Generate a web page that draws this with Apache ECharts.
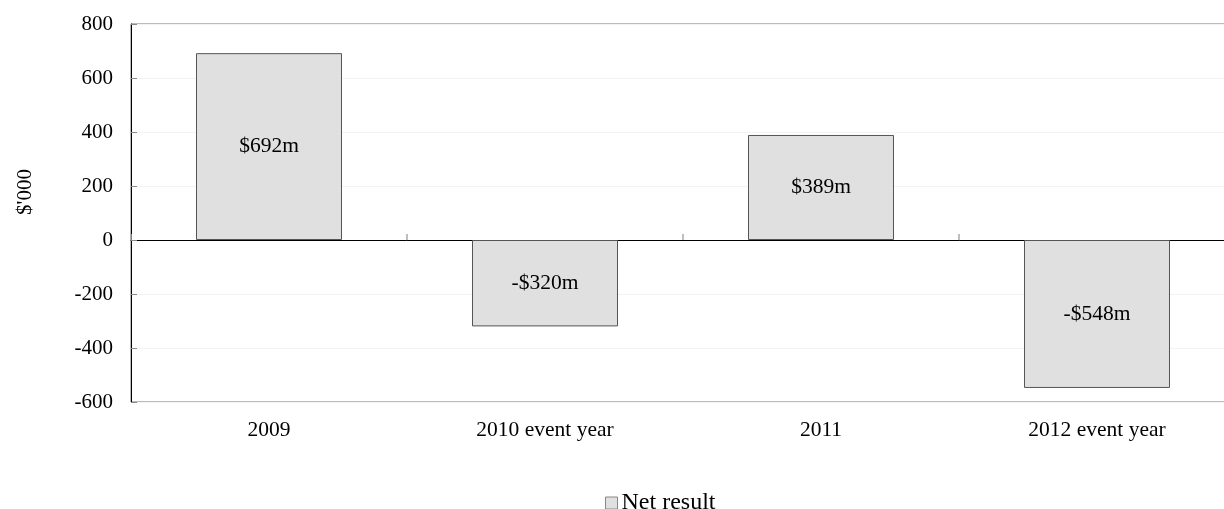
<!DOCTYPE html>
<html>
<head>
<meta charset="utf-8">
<script src="https://cdn.jsdelivr.net/npm/echarts@6/dist/echarts.min.js"></script>
<style>
  html, body { margin: 0; padding: 0; background: #fff; overflow: hidden; }
  /* plot area runs a little past the right edge of the window, as in the original */
  #main { width: 1236px; height: 509px; }
</style>
</head>
<body>
<div id="main"></div>
<script>
var categories = ["2009", "2010 event year", "2011", "2012 event year"];
var netResult = [692, -320, 389, -548];
var barLabels = ["$692m", "-$320m", "$389m", "-$548m"];

var font = "'Liberation Serif', 'Times New Roman', serif";
var myChart = echarts.init(document.getElementById("main"));

myChart.setOption({
  backgroundColor: "#fff",
  animation: false,
  textStyle: { fontFamily: font },
  grid: {
    left: 131,
    top: 24,
    right: 1,
    bottom: 107,
    show: true,
    borderColor: "#777",
    borderWidth: 1
  },
  legend: {
    top: 486,
    left: 600,
    itemWidth: 12,
    itemHeight: 12,
    itemGap: 3,
    textStyle: { fontFamily: font, fontSize: 24, color: "#000", padding: [0, 0, 0, -1] },
    itemStyle: { borderColor: "#888", borderWidth: 1 },
    data: [{ name: "Net result", icon: "rect" }]
  },
  xAxis: {
    type: "category",
    data: categories,
    axisLine: { onZero: true, lineStyle: { color: "#000", width: 1 } },
    axisTick: { show: true, inside: true, length: 6, lineStyle: { color: "#aaa", width: 1.5 } },
    axisLabel: {
      interval: 0,
      fontFamily: font,
      fontSize: 21.5,
      color: "#000",
      margin: 17
    },
    position: "bottom"
  },
  yAxis: {
    type: "value",
    min: -600,
    max: 800,
    interval: 200,
    name: "$'000",
    nameLocation: "middle",
    nameGap: 95,
    nameRotate: 90,
    nameTextStyle: { fontFamily: font, fontSize: 21, color: "#000", padding: [0, 0, 0, 42] },
    axisLine: { show: true, lineStyle: { color: "#000" } },
    axisTick: { show: true, inside: true, length: 6, lineStyle: { color: "#888" } },
    axisLabel: { fontFamily: font, fontSize: 21, color: "#000", margin: 18 },
    splitLine: { lineStyle: { color: "#f3f3f3" } }
  },
  series: [
    {
      name: "Net result",
      type: "bar",
      data: netResult,
      barWidth: 146,
      itemStyle: {
        color: "#e0e0e0",
        borderColor: "#555",
        borderWidth: 1
      },
      label: {
        show: true,
        position: "inside",
        fontFamily: font,
        fontSize: 21.5,
        color: "#000",
        formatter: function (p) {
          return barLabels[p.dataIndex];
        }
      }
    }
  ]
});
</script>
</body>
</html>
